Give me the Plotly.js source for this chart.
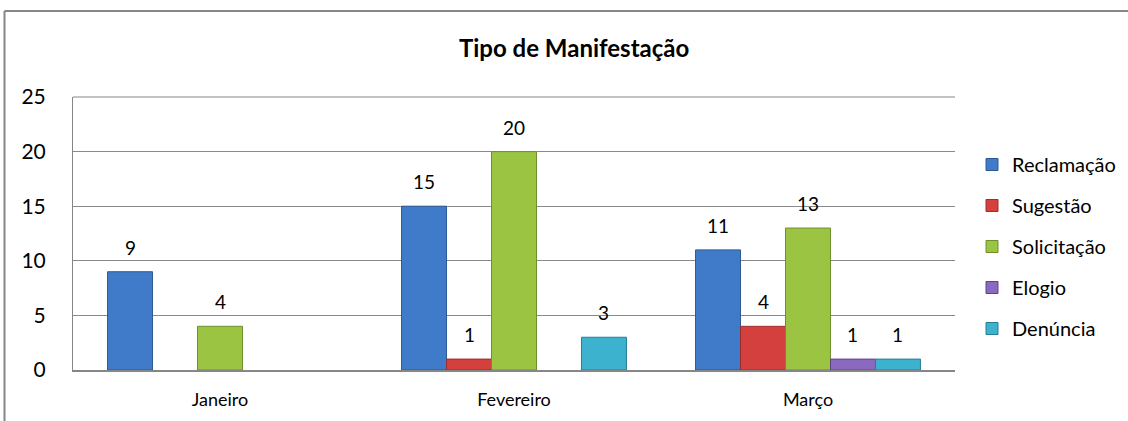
<!DOCTYPE html>
<html>
<head>
<meta charset="utf-8">
<script src="https://cdn.plot.ly/plotly-3.0.1.min.js"></script>
<style>
html,body{margin:0;padding:0;background:#fff;}
#chart{width:1128px;height:421px;}
</style>
</head>
<body>
<div id="chart"></div>
<script>
const categories = ["Janeiro", "Fevereiro", "Março"];
const seriesNames = ["Reclamação", "Sugestão", "Solicitação", "Elogio", "Denúncia"];
const reclamacao = [9, 15, 11];
const sugestao = [null, 1, 4];
const solicitacao = [4, 20, 13];
const elogio = [null, null, 1];
const denuncia = [null, 3, 1];
const yTicks = [0, 5, 10, 15, 20, 25];

const seriesValues = [reclamacao, sugestao, solicitacao, elogio, denuncia];
const fills = ["#3f7bc8", "#d4403d", "#9cc443", "#8a69bf", "#3cb2cf"];
const lines = ["#2c5a94", "#9c2e2c", "#6f8f2c", "#5f4686", "#267f96"];
const FONT = "Lato, 'Open Sans', sans-serif";
const bargap = 0.235;
const nSeries = seriesValues.length;
const barW = (1 - bargap) / nSeries;

const traces = seriesValues.map((vals, i) => ({
  type: "bar",
  name: seriesNames[i],
  x: categories,
  y: vals,
  legendgroup: "g" + i,
  marker: {color: fills[i], line: {color: lines[i], width: 1}},
  hoverinfo: "skip"
}));

const annotations = [];
seriesValues.forEach((vals, i) => {
  vals.forEach((v, j) => {
    if (v === null) return;
    annotations.push({
      x: j - (1 - bargap) / 2 + barW * (i + 0.5),
      y: v,
      xref: "x", yref: "y",
      text: String(v),
      showarrow: false,
      yanchor: "bottom",
      yshift: 11,
      font: {family: FONT, size: 19, color: "#000"}
    });
  });
});

const layout = {
  width: 1128, height: 421,
  margin: {l: 73, r: 173, t: 97, b: 51, autoexpand: false},
  paper_bgcolor: "#fff",
  plot_bgcolor: "#fff",
  barmode: "group",
  bargap: bargap,
  bargroupgap: 0,
  title: {
    text: "<b>Tipo de Manifestação</b>",
    font: {family: FONT, size: 24, color: "#000"},
    x: 0.509, xanchor: "center",
    y: 0.885, yanchor: "middle"
  },
  xaxis: {
    type: "category",
    showgrid: false,
    showline: true, linecolor: "#868686", linewidth: 2,
    ticks: "",
    tickfont: {family: FONT, size: 18, color: "#000"},
    ticklabelstandoff: 12,
    fixedrange: true
  },
  yaxis: {
    range: [0, 25],
    tickvals: yTicks,
    ticktext: yTicks.map(String),
    showgrid: true, gridcolor: "#8a8a8a", gridwidth: 1,
    showline: true, linecolor: "#868686", linewidth: 1,
    zeroline: false,
    ticks: "",
    tickfont: {family: FONT, size: 21, color: "#000"},
    ticklabelstandoff: 22,
    fixedrange: true
  },
  showlegend: true,
  legend: {
    xref: "container", yref: "container",
    x: 972 / 1128, xanchor: "left",
    y: 1 - 145 / 421, yanchor: "top",
    traceorder: "grouped",
    tracegroupgap: 12,
    font: {family: FONT, size: 20, color: "#000"},
    itemwidth: 30,
    bgcolor: "rgba(0,0,0,0)"
  },
  annotations: annotations,
  shapes: [
    {type: "line", xref: "paper", yref: "paper",
     x0: (4.5 - 73) / 882, x1: (4.5 - 73) / 882, y0: (370 - 11) / 273, y1: (370 - 425) / 273,
     line: {color: "#868686", width: 2}},
    {type: "line", xref: "paper", yref: "paper",
     x0: (4.5 - 73) / 882, x1: (1130 - 73) / 882, y0: (370 - 11) / 273, y1: (370 - 11) / 273,
     line: {color: "#868686", width: 2}},
    {type: "line", xref: "paper", yref: "paper",
     x0: 0, x1: 1, y0: 1, y1: 1,
     line: {color: "#868686", width: 1}}
  ]
};

Plotly.newPlot("chart", traces, layout, {displayModeBar: false, staticPlot: true});
</script>
</body>
</html>
